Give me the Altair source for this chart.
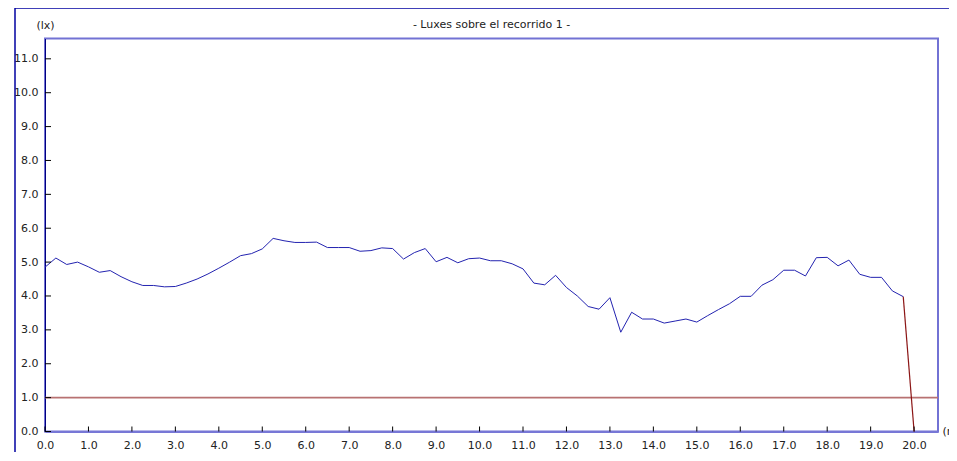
import altair as alt
import pandas as pd

# distance along the route (m)
distance = [0.0, 0.25, 0.5, 0.75, 1.0, 1.25, 1.5, 1.75, 2.0, 2.25, 2.5, 2.75,
            3.0, 3.25, 3.5, 3.75, 4.0, 4.25, 4.5, 4.75, 5.0, 5.25, 5.5, 5.75,
            6.0, 6.25, 6.5, 6.75, 7.0, 7.25, 7.5, 7.75, 8.0, 8.25, 8.5, 8.75,
            9.0, 9.25, 9.5, 9.75, 10.0, 10.25, 10.5, 10.75, 11.0, 11.25, 11.5, 11.75,
            12.0, 12.25, 12.5, 12.75, 13.0, 13.25, 13.5, 13.75, 14.0, 14.25, 14.5, 14.75,
            15.0, 15.25, 15.5, 15.75, 16.0, 16.25, 16.5, 16.75, 17.0, 17.25, 17.5, 17.75,
            18.0, 18.25, 18.5, 18.75, 19.0, 19.25, 19.5, 19.75]
# illuminance (lx)
lux = [4.85, 5.12, 4.93, 5.00, 4.86, 4.70, 4.75, 4.57, 4.42, 4.31, 4.31, 4.27,
       4.28, 4.38, 4.50, 4.65, 4.82, 5.00, 5.19, 5.25, 5.39, 5.70, 5.63, 5.58,
       5.58, 5.59, 5.43, 5.43, 5.43, 5.32, 5.34, 5.42, 5.40, 5.09, 5.28, 5.40,
       5.01, 5.14, 4.98, 5.10, 5.12, 5.04, 5.04, 4.95, 4.80, 4.38, 4.33, 4.61,
       4.25, 4.00, 3.69, 3.61, 3.95, 2.93, 3.52, 3.32, 3.32, 3.20, 3.26, 3.32,
       3.23, 3.42, 3.60, 3.77, 3.99, 3.99, 4.32, 4.48, 4.76, 4.76, 4.59, 5.13,
       5.14, 4.89, 5.06, 4.64, 4.55, 4.55, 4.15, 3.98]
# end drop segment
drop_x = [19.75, 20.0]
drop_y = [3.98, 0.0]
# minimum reference level
min_level = [1.0]
title_text = ["- Luxes sobre el recorrido 1 -"]

x_ticks = [float(i) for i in range(0, 21)]
y_ticks = [float(i) for i in range(0, 12)]

W, H = 893, 393
FONT = "DejaVu Sans"

xs = alt.Scale(domain=[0, 20.55], nice=False, zero=False)
ys = alt.Scale(domain=[0, 11.6], nice=False)

main = pd.DataFrame({"d": distance, "lx": lux})
drop = pd.DataFrame({"d": drop_x, "lx": drop_y})
lvl = pd.DataFrame({"lx": min_level})
ttl = pd.DataFrame({"t": title_text})
xt = pd.DataFrame({"d": x_ticks})
yt = pd.DataFrame({"lx": y_ticks})

xaxis = alt.Axis(values=x_ticks, format=".1f", ticks=False, grid=False,
                 domainColor="#7777d6", domainWidth=2, labelPadding=8,
                 labelOverlap=False, labelFlush=False, labelBound=False,
                 labelFont=FONT, labelFontSize=11, labelColor="#222222",
                 title="(m)", titleX=W + 4, titleY=0, titleAlign="left",
                 titleBaseline="middle", titleFont=FONT, titleFontSize=11,
                 titleFontWeight="normal", titleColor="#222222")
yaxis = alt.Axis(values=y_ticks, format=".1f", ticks=False, grid=False,
                 domainColor="#000080", domainWidth=1, labelPadding=7,
                 labelOverlap=False, labelFlush=False, labelBound=False,
                 labelFont=FONT, labelFontSize=11, labelColor="#222222",
                 title="(lx)", titleAngle=0, titleX=0, titleY=-13,
                 titleAlign="center", titleBaseline="middle", titleFont=FONT,
                 titleFontSize=11, titleFontWeight="normal", titleColor="#222222")

line = alt.Chart(main).mark_line(color="#2323b0", strokeWidth=1).encode(
    x=alt.X("d:Q", scale=xs, axis=xaxis),
    y=alt.Y("lx:Q", scale=ys, axis=yaxis),
)
drop_line = alt.Chart(drop).mark_line(color="#8b1515", strokeWidth=1.2).encode(
    x=alt.X("d:Q", scale=xs, axis=xaxis), y=alt.Y("lx:Q", scale=ys, axis=yaxis))
level = alt.Chart(lvl).mark_rule(color="#b87272", strokeWidth=1.6).encode(
    y=alt.Y("lx:Q", scale=ys, axis=yaxis))
ytick_marks = alt.Chart(yt).mark_rule(color="#000000", strokeWidth=1).encode(
    y=alt.Y("lx:Q", scale=ys, axis=yaxis), x=alt.value(0), x2=alt.value(6))
xtick_marks = alt.Chart(xt).mark_rule(color="#000000", strokeWidth=1).encode(
    x=alt.X("d:Q", scale=xs, axis=xaxis), y=alt.value(H - 5), y2=alt.value(H))

frame_top = alt.Chart(lvl).mark_rule(color="#0000a0", strokeWidth=1.5).encode(
    x=alt.value(-30), x2=alt.value(W + 30), y=alt.value(-30.5))
frame_left = alt.Chart(lvl).mark_rule(color="#0000a0", strokeWidth=1.5).encode(
    x=alt.value(-30), y=alt.value(-30.5), y2=alt.value(H + 40))
title_mark = alt.Chart(ttl).mark_text(font=FONT, fontSize=11, color="#222222",
                                      align="center", baseline="middle").encode(
    text="t:N", x=alt.value(W / 2), y=alt.value(-13.5))

chart = alt.layer(line, level, drop_line, ytick_marks, xtick_marks,
                  frame_top, frame_left, title_mark).properties(
    width=W, height=H,
    background="white",
    autosize=alt.AutoSizeParams(type="none"),
    padding={"left": 37, "top": 30.5, "right": 11, "bottom": 20},
).configure_view(stroke="#7272d4", strokeWidth=2)

chart.save("out.html", embed_options={"renderer": "svg", "actions": False})
